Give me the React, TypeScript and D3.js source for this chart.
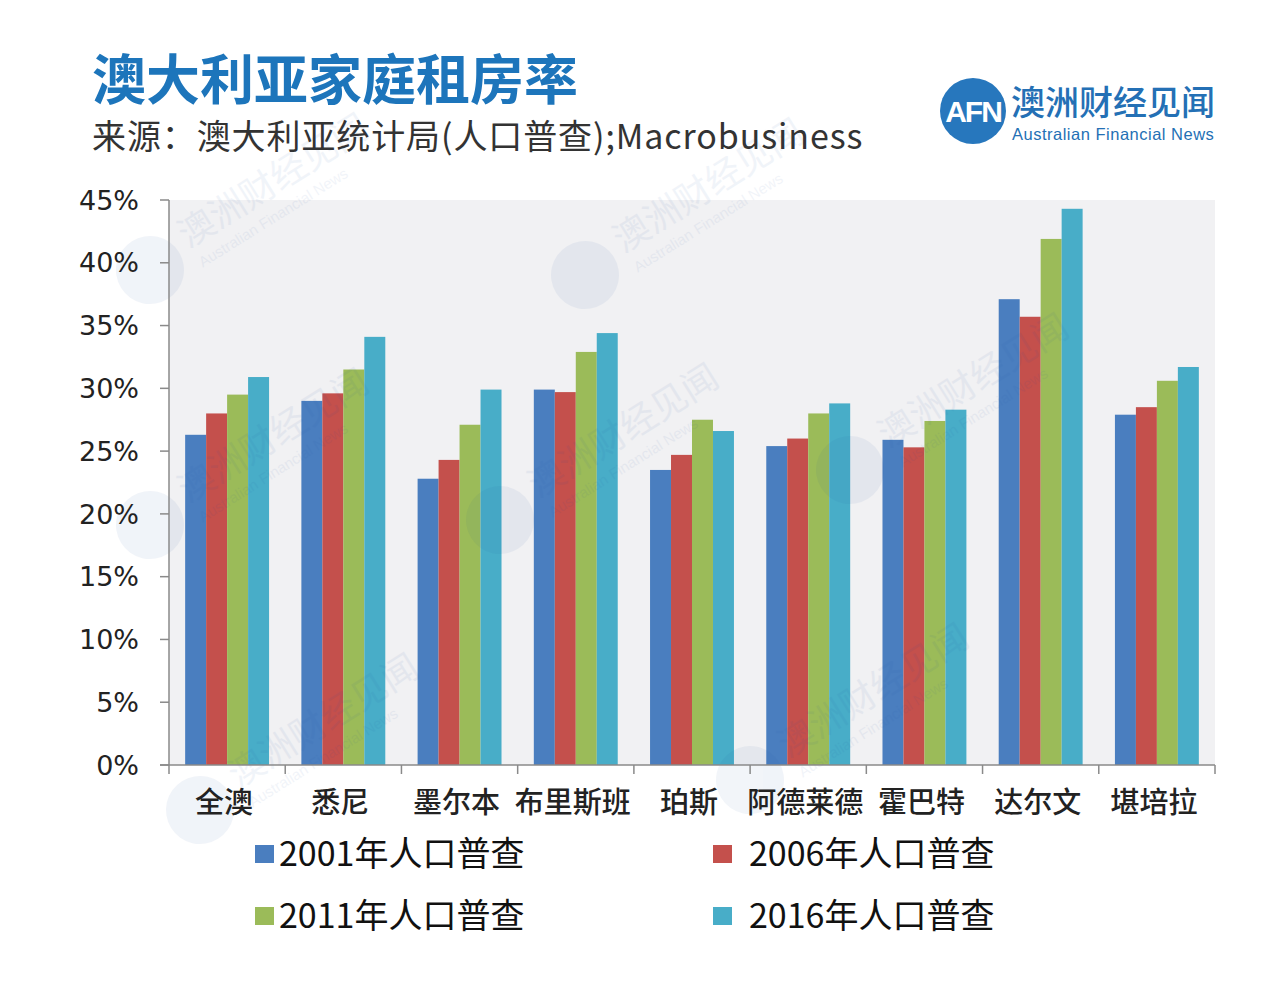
import React from "react";
import * as d3 from "d3";

const categories = ["全澳", "悉尼", "墨尔本", "布里斯班", "珀斯", "阿德莱德", "霍巴特", "达尔文", "堪培拉"];
const seriesNames = ["2001年人口普查", "2006年人口普查", "2011年人口普查", "2016年人口普查"];
const colors = ["#4a7ebf", "#c4504c", "#9bbb59", "#48adc8"];
const s2001 = [26.3, 29.0, 22.8, 29.9, 23.5, 25.4, 25.9, 37.1, 27.9];
const s2006 = [28.0, 29.6, 24.3, 29.7, 24.7, 26.0, 25.3, 35.7, 28.5];
const s2011 = [29.5, 31.5, 27.1, 32.9, 27.5, 28.0, 27.4, 41.9, 30.6];
const s2016 = [30.9, 34.1, 29.9, 34.4, 26.6, 28.8, 28.3, 44.3, 31.7];
const seriesValues = [s2001, s2006, s2011, s2016];
const yTicks = [0, 5, 10, 15, 20, 25, 30, 35, 40, 45];

const W = 1280;
const H = 987;
const plot = { left: 169, right: 1215, top: 200, bottom: 765 };

const watermarks = [
  { x: 150, y: 270 },
  { x: 585, y: 275 },
  { x: 150, y: 525 },
  { x: 500, y: 520 },
  { x: 850, y: 470 },
  { x: 200, y: 810 },
  { x: 750, y: 780 },
];

export default function App() {
  const x = d3.scaleBand<string>().domain(categories).range([plot.left, plot.right]).padding(0);
  const inner = d3
    .scaleBand<string>()
    .domain(seriesNames)
    .range([0, x.bandwidth()])
    .paddingInner(0)
    .paddingOuter(0.77);
  const y = d3.scaleLinear().domain([0, 45]).range([plot.bottom, plot.top]);
  const cjk = "'Noto Sans CJK SC', 'Noto Sans', sans-serif";

  return (
    <svg width={W} height={H} style={{ display: "block", margin: "-8px" }} viewBox={`0 0 ${W} ${H}`}>
      <rect x={0} y={0} width={W} height={H} fill="#ffffff" />
      {/* title */}
      <text x={92} y={100} fontFamily={cjk} fontWeight={700} fontSize={54} fill="#1d75bb">
        澳大利亚家庭租房率
      </text>
      <text x={92} y={149} fontFamily={cjk} fontSize={34} fill="#333333" letterSpacing={0.9}>
        来源：澳大利亚统计局(人口普查);Macrobusiness
      </text>
      {/* logo */}
      <g>
        <circle cx={973} cy={111} r={33} fill="#2777bd" />
        <text x={973} y={122} textAnchor="middle" fontFamily="'Liberation Sans', Arial, sans-serif" fontWeight={700} fontSize={30} fill="#ffffff" letterSpacing={-2}>
          AFN
        </text>
        <text x={1011} y={115} fontFamily={cjk} fontWeight={500} fontSize={34} fill="#2470b5">
          澳洲财经见闻
        </text>
        <text x={1012} y={140} fontFamily="'Liberation Sans', Arial, sans-serif" fontSize={16.5} fill="#2470b5" letterSpacing={0.5}>
          Australian Financial News
        </text>
      </g>
      {/* plot background */}
      <rect x={plot.left} y={plot.top} width={plot.right - plot.left} height={plot.bottom - plot.top} fill="#f1f1f3" />
      {/* bars */}
      {seriesValues.map((vals, si) =>
        vals.map((v, ci) => (
          <rect
            key={`b${si}-${ci}`}
            x={(x(categories[ci]) as number) + (inner(seriesNames[si]) as number)}
            y={y(v)}
            width={inner.bandwidth()}
            height={y(0) - y(v)}
            fill={colors[si]}
          />
        ))
      )}
      {/* watermarks */}
      {watermarks.map((w, i) => (
        <g key={`wm${i}`} transform={`translate(${w.x},${w.y}) rotate(-32)`} opacity={0.06}>
          <circle cx={0} cy={0} r={34} fill="#1d4fa0" />
          <text x={44} y={2} fontFamily={cjk} fontSize={36} fill="#1d4fa0">澳洲财经见闻</text>
          <text x={46} y={26} fontFamily="'Liberation Sans', sans-serif" fontSize={15} fill="#1d4fa0">Australian Financial News</text>
        </g>
      ))}
      {/* y axis */}
      <line x1={plot.left} x2={plot.left} y1={plot.top} y2={plot.bottom} stroke="#8a8a8a" strokeWidth={1.5} />
      {yTicks.map((t) => (
        <g key={`yt${t}`}>
          <line x1={plot.left - 9} x2={plot.left} y1={y(t)} y2={y(t)} stroke="#8a8a8a" strokeWidth={1.5} />
          <text
            x={139}
            y={y(t)}
            dy="0.36em"
            textAnchor="end"
            fontFamily="'DejaVu Sans', Verdana, sans-serif"
            fontSize={27}
            fill="#222222"
          >
            {`${t}%`}
          </text>
        </g>
      ))}
      {/* x axis */}
      <line x1={plot.left - 9} x2={plot.right} y1={plot.bottom} y2={plot.bottom} stroke="#8a8a8a" strokeWidth={1.5} />
      {[...categories.map((c) => x(c) as number), plot.right].map((px, i) => (
        <line key={`xt${i}`} x1={px} x2={px} y1={plot.bottom} y2={plot.bottom + 9} stroke="#8a8a8a" strokeWidth={1.5} />
      ))}
      {categories.map((c) => (
        <text
          key={`xl${c}`}
          x={(x(c) as number) + x.bandwidth() / 2 - 3}
          y={813}
          textAnchor="middle"
          fontFamily={cjk}
          fontWeight={500}
          fontSize={29}
          fill="#222222"
        >
          {c}
        </text>
      ))}
      {/* legend */}
      {seriesNames.map((s, i) => {
        const col = i % 2;
        const row = Math.floor(i / 2);
        const sx = col === 0 ? 255 : 713;
        const tx = col === 0 ? 279 : 749;
        const cy = row === 0 ? 854 : 916;
        return (
          <g key={`lg${i}`}>
            <rect x={sx} y={cy - 9} width={19} height={18} fill={colors[i]} />
            <text x={tx} y={cy} dy="0.36em" fontFamily={cjk} fontSize={34} fill="#111111">
              {s}
            </text>
          </g>
        );
      })}
    </svg>
  );
}
